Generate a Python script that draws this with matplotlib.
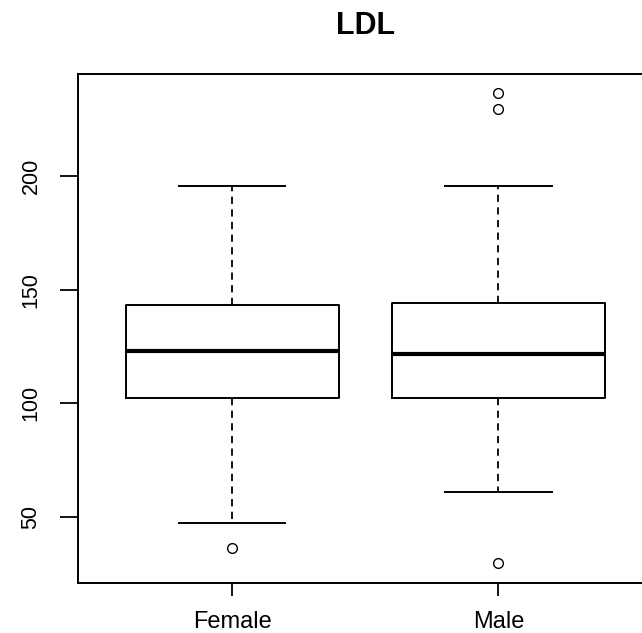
# LDL boxplot by sex, R-style
import matplotlib
matplotlib.use('Agg')
import matplotlib.pyplot as plt

groups = ['Female', 'Male']
q1 = [102.2, 102.2]
med = [122.8, 121.8]
q3 = [143.1, 144.1]
whislo = [47.1, 61.0]
whishi = [195.6, 195.9]
fliers = [[36.0], [29.4, 229.7, 236.5]]
yticks = [50, 100, 150, 200]

plt.rcParams['font.family'] = ['Liberation Sans', 'DejaVu Sans']

stats = []
for i, g in enumerate(groups):
    stats.append({'label': g, 'q1': q1[i], 'med': med[i], 'q3': q3[i],
                  'whislo': whislo[i], 'whishi': whishi[i], 'fliers': fliers[i]})

fig = plt.figure(figsize=(6.42, 6.33), dpi=100)
ax = fig.add_axes([0.121, 0.0795, 0.896, 0.803])

line = dict(color='black', linewidth=1.4)
ax.bxp(stats, positions=[1, 2], widths=0.8, capwidths=0.4,
       boxprops=line,
       whiskerprops=dict(color='black', linewidth=1.3, linestyle=(0, (4, 3))),
       capprops=line,
       medianprops=dict(color='black', linewidth=3.0),
       flierprops=dict(marker='o', markersize=7, markerfacecolor='none',
                       markeredgecolor='black', markeredgewidth=1.0))

ax.set_xlim(0.42, 2.58)
ax.set_ylim(20.9, 244.9)
ax.set_yticks(yticks)
ax.set_yticklabels([str(v) for v in yticks], rotation=90, va='center')
ax.set_xticks([1, 2])
ax.set_xticklabels(groups)
ax.tick_params(axis='y', length=13, width=1.3, pad=13, labelsize=15.5)
ax.tick_params(axis='x', length=9.5, width=1.3, pad=11, labelsize=17)
for s in ax.spines.values():
    s.set_linewidth(1.4)

ax.set_title('LDL', fontsize=22, fontweight='bold', pad=29)

fig.savefig('out.png', dpi=100)
